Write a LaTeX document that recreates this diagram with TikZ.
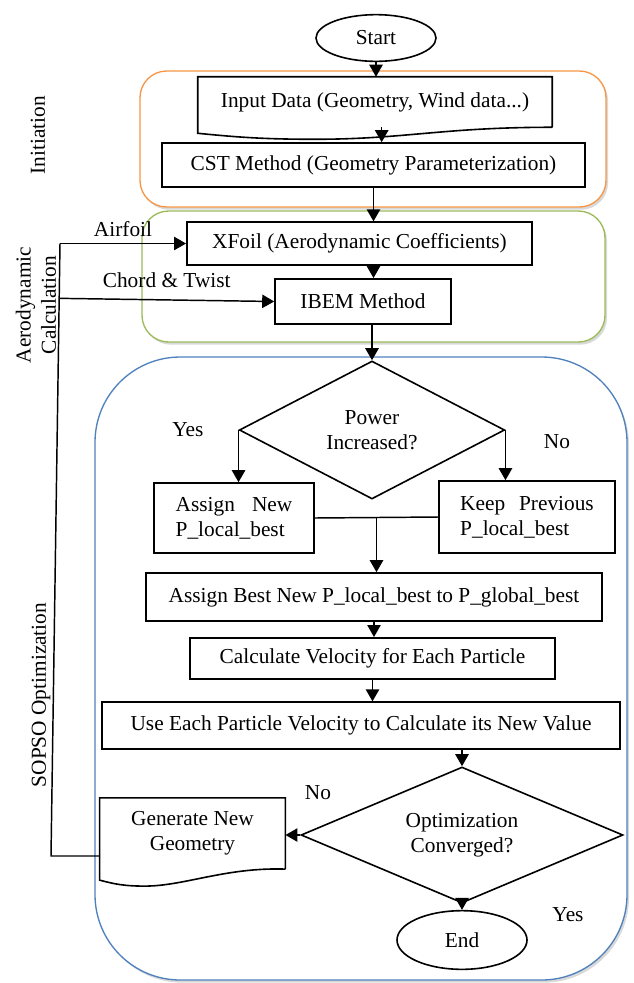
\documentclass[tikz,border=0pt]{standalone}
\usepackage{fontspec}
\setmainfont{Liberation Serif}
\usetikzlibrary{shapes.geometric,arrows.meta,calc,shadows}

\definecolor{initorange}{RGB}{247,150,70}
\definecolor{aerogreen}{RGB}{155,187,89}
\definecolor{optblue}{RGB}{79,129,189}

\tikzset{
  stepbox/.style={draw, line width=1.2pt, inner sep=2pt, align=center},
  docbox/.style={inner sep=2pt, align=center},
  terminal/.style={ellipse, draw, line width=1.2pt, inner sep=0pt},
  decision/.style={diamond, draw, line width=1.2pt, aspect=2, inner sep=0pt, align=center},
  group/.style={rounded corners=#1, line width=1pt, fill=white,
    drop shadow={shadow xshift=1.5pt, shadow yshift=-2pt, opacity=0.3}},
  arrow/.style={-{Triangle[length=9pt,width=10pt]}, line width=1.1pt},
  link/.style={line width=1.1pt},
  sidelabel/.style={rotate=90, align=center}
}

\begin{document}
\begin{tikzpicture}[x=0.75pt, y=-0.75pt, font=\fontsize{16}{19}\selectfont]
  \useasboundingbox (0,0) rectangle (633,983);

  % Stage frames
  \draw[group=20pt, draw=initorange] (140,71) rectangle (606,207);
  \draw[group=20pt, draw=aerogreen] (142,211) rectangle (605,342);
  \draw[group=64pt, draw=optblue] (95,357) rectangle (627,980);

  % Stage names
  \node[sidelabel] (initname) at (38,135) {Initiation};
  \node[sidelabel] (aeroname) at (36,305) {Aerodynamic\\Calculation};
  \node[sidelabel] (optname) at (41,695) {SOPSO Optimization};

  % Steps
  \node[terminal, minimum width=90pt, minimum height=35pt] (start) at (376,38) {Start};
  \node[docbox, minimum width=265.5pt, minimum height=37.5pt] (input) at (375,102) {Input Data (Geometry, Wind data...)};
  \draw[line width=1.2pt] (input.south east) -- (input.north east) -- (input.north west)
    -- ([yshift=-4.5pt]input.south west) .. controls +(40,4) and +(-50,0) .. ($(input.south west)+(117,12)$)
    .. controls +(90,0) and +(-110,0) .. (input.south east);
  \node[stepbox, minimum width=317pt, minimum height=33pt] (cst) at (373.5,165) {CST Method (Geometry Parameterization)};
  \node[stepbox, minimum width=259pt, minimum height=32pt] (xfoil) at (359.5,243.5) {XFoil (Aerodynamic Coefficients)};
  \node[stepbox, minimum width=132pt, minimum height=34pt] (ibem) at (363,301.5) {IBEM Method};
  \node[decision, minimum width=199pt, minimum height=103.5pt] (power) at (372,430) {Power\\Increased?};
  \node[stepbox, minimum width=120pt, minimum height=52.5pt, align=left] (assign) at (234,518) {Assign\hspace{0.8em}New\\P\_local\_best};
  \node[stepbox, minimum width=132pt, minimum height=54pt, align=left] (keep) at (527,517) {Keep\hspace{0.65em}Previous\\P\_local\_best};
  \node[stepbox, minimum width=342pt, minimum height=36pt] (best) at (374,597) {Assign Best New P\_local\_best to P\_global\_best};
  \node[stepbox, minimum width=274pt, minimum height=31pt] (velocity) at (372.5,658.5) {Calculate Velocity for Each Particle};
  \node[stepbox, minimum width=388.5pt, minimum height=35pt] (useeach) at (361,725.5) {Use Each Particle Velocity to Calculate its New Value};
  \node[decision, minimum width=241.5pt, minimum height=102pt] (converged) at (462,835) {Optimization\\Converged?};
  \node[docbox, minimum width=139pt, minimum height=53pt] (generate) at (192.5,833.5) {Generate New\\Geometry};
  \draw[line width=1.2pt] (generate.south east) -- (generate.north east) -- (generate.north west)
    -- ([yshift=-8.25pt]generate.south west) .. controls +(15,4) and +(-20,0) .. ($(generate.south west)+(45,17)$)
    .. controls +(40,0) and +(-60,-2) .. (generate.south east);
  \node[terminal, minimum width=97.5pt, minimum height=44pt] (end) at (462,940) {End};

  % Branch labels
  \node (yes1) at (188,430) {Yes};
  \node (no1) at (557,442) {No};
  \node (no2) at (318,793) {No};
  \node (yes2) at (568,915) {Yes};

  % Main flow
  \draw[arrow] (start.south) -- (start.south |- input.north);
  \draw[arrow] ([xshift=5pt]input.south) -- ([xshift=5pt]input.south |- cst.north);
  \draw[arrow] (cst.south) -- (cst.south |- xfoil.north);
  \draw[arrow] (xfoil.south -| cst.south) -- (cst.south |- ibem.north);
  \draw[arrow] (ibem.south -| power.north) -- (power.north);
  \draw[arrow] (power.west) -- (power.west |- assign.north);
  \draw[arrow] (power.east) -- (power.east |- keep.north);
  \coordinate (merge) at ($(assign.east)!0.5!(keep.west)$);
  \draw[link] (assign.east) -- (keep.west);
  \draw[arrow] (merge) -- (merge |- best.north);
  \draw[arrow] (best.south) -- (best.south |- velocity.north);
  \draw[arrow] (velocity.south) -- (velocity.south |- useeach.north);
  \draw[arrow] (useeach.south -| converged.north) -- (converged.north);
  \draw[arrow] (converged.west) -- (converged.west -| generate.east);
  \draw[arrow] (converged.south) -- (end.north);

  % Feedback to the aerodynamic calculation
  \coordinate (loopb) at (51,856);
  \coordinate (loopt) at (60,243.5);
  \draw[link] (generate.west |- loopb) -- (loopb) -- (loopt);
  \draw[arrow] (loopt) -- (xfoil.west) node[midway, above=1.5pt] {Airfoil};
  \draw[arrow] ($(loopt)!(ibem.west)!(loopb)$) -- (ibem.west) node[midway, above=5pt] {Chord \& Twist};
\end{tikzpicture}
\end{document}
